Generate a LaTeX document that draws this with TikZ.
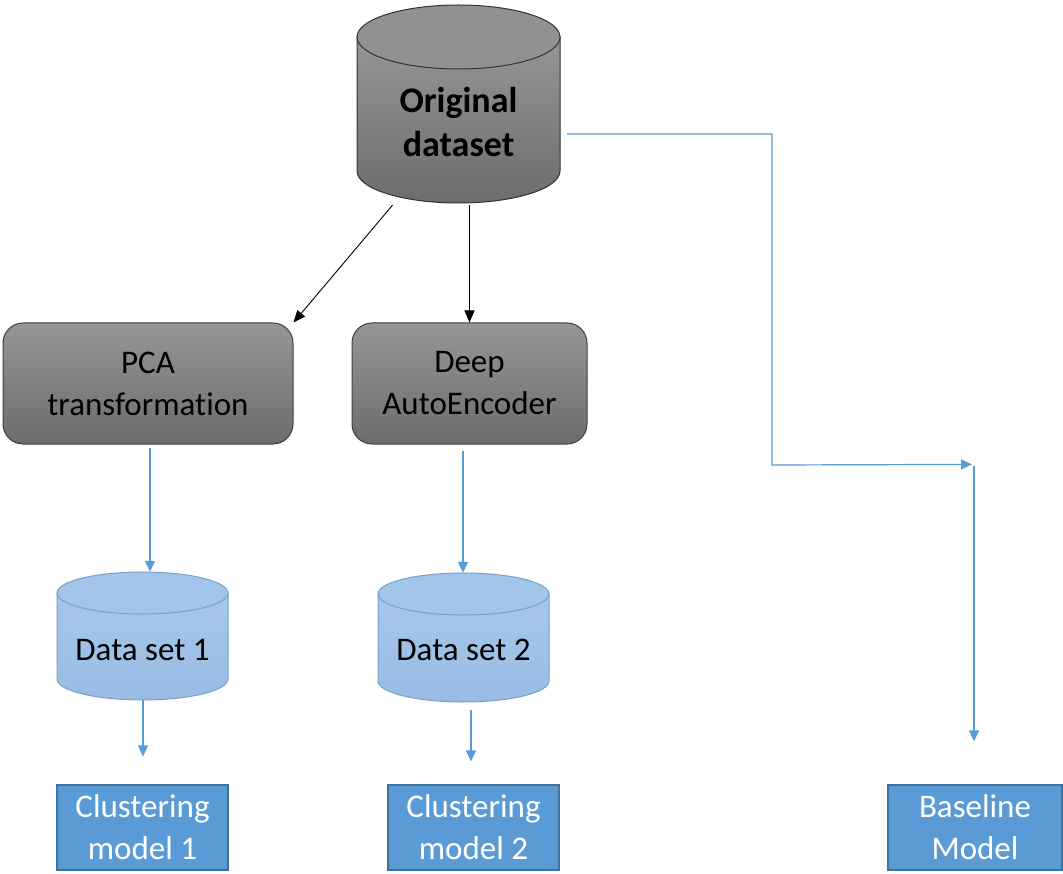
\documentclass[tikz,border=0pt]{standalone}
\usepackage{fontspec}
\setmainfont{Carlito}[Ligatures=NoCommon]
\usetikzlibrary{arrows.meta,calc}
\definecolor{blueA}{RGB}{91,155,213}
\definecolor{blueD}{RGB}{65,113,156}
\definecolor{lbTop}{RGB}{166,199,234}
\definecolor{lbBot}{RGB}{152,188,227}
\definecolor{lbEll}{RGB}{162,197,233}
\definecolor{lbLine}{RGB}{120,160,205}
\definecolor{gTop}{RGB}{150,150,150}
\definecolor{gBot}{RGB}{108,108,108}
\definecolor{gEll}{RGB}{145,145,145}
\newcommand\drawcyl[7]{%
  \draw[#6] (#1-#4,-#2-#5) -- (#1-#4,-#3+#5)
    arc[start angle=180,end angle=360,x radius=#4pt,y radius=#5pt]
    -- (#1+#4,-#2-#5) -- cycle;
  \draw[#7] (#1,-#2-#5) ellipse[x radius=#4pt,y radius=#5pt];}
\tikzset{
  txt/.style={font=\fontsize{33}{42}\selectfont, align=center},
  graybox/.style={txt, rounded corners=20pt, draw=black!75, line width=1pt,
    top color=gTop, bottom color=gBot, inner sep=0pt},
  bluebox/.style={txt, draw=blueD, fill=blueA, line width=1.2pt, text=white, inner sep=0pt},
  frame/.style={inner sep=0pt, draw=none},
  barrow/.style={draw=blueA, line width=1.2pt, -{Triangle[length=11pt,width=10pt]}},
  karrow/.style={draw=black, line width=0.9pt, -{Triangle[length=12pt,width=10pt]}},
  gbody/.style={draw=black!80, line width=1pt, top color=gTop, bottom color=gBot},
  gtop/.style={draw=black!80, line width=1pt, fill=gEll},
  lbody/.style={draw=lbLine, line width=1pt, top color=lbTop, bottom color=lbBot},
  ltop/.style={draw=lbLine, line width=1pt, fill=lbEll},
}
\begin{document}
\begin{tikzpicture}[x=1pt,y=1pt]
\useasboundingbox (0,0) rectangle (1063,-874);
\fill[white] (0,0) rectangle (1063,-874);

% cylinders
\drawcyl{458.5}{5}{203}{101.5}{32}{gbody}{gtop}
\node[frame, minimum width=203pt, minimum height=198pt] (orig) at (458.5,-104) {};
\node[font=\bfseries\fontsize{36}{44}\selectfont, align=center] (origtxt) at (458.5,-122) {Original\\dataset};

\drawcyl{142.5}{572}{700}{85.5}{21}{lbody}{ltop}
\node[frame, minimum width=171pt, minimum height=128pt] (ds1) at (142.5,-636) {};
\node[txt] (ds1txt) at (142.5,-650) {Data set 1};

\drawcyl{463.5}{573}{702}{85.5}{21}{lbody}{ltop}
\node[frame, minimum width=171pt, minimum height=129pt] (ds2) at (463.5,-637.5) {};
\node[txt] (ds2txt) at (463.5,-650) {Data set 2};

% boxes
\node[graybox, minimum width=290pt, minimum height=121pt] (pca) at (148,-383.5) {PCA\\transformation};
\node[graybox, minimum width=235pt, minimum height=121pt] (deep) at (469.5,-383.5) {Deep\\AutoEncoder};
\node[bluebox, minimum width=171pt, minimum height=85pt] (cm1) at (142.5,-827.5) {Clustering\\model 1};
\node[bluebox, minimum width=171pt, minimum height=85pt] (cm2) at (473.5,-827.5) {Clustering\\model 2};
\node[bluebox, minimum width=174pt, minimum height=85pt] (base) at (975,-827.5) {Baseline\\Model};

% black connectors
\draw[karrow] ($(orig.south)+(-66,-2)$) -- (pca.north east);
\draw[karrow] (deep.north |- orig.south) ++(0,-2) -- (deep.north);

% blue connectors
\coordinate (p1) at ($(pca.south)+(2,-3)$);
\draw[barrow] (p1) -- (p1 |- ds1.north);
\coordinate (p2) at ($(ds1.south)+(0.5,0)$);
\draw[barrow] (p2) -- ($(p2 |- cm1.north)+(0,28)$);
\coordinate (p3) at ($(deep.south)+(-6.5,-6)$);
\draw[barrow] (p3) -- (p3 |- ds2.north);
\coordinate (p4) at ($(ds2.south)+(7.5,-8)$);
\draw[barrow] (p4) -- ($(p4 |- cm2.north)+(0,23)$);

\coordinate (o1) at ($(orig.east)+(7,-30)$);
\coordinate (b1) at ($(base.north)+(-1,-465+785)$);
\draw[barrow] (o1) -| (772,-465) -- ($(b1)+(-2,0)$);
\draw[barrow] ($(b1)+(0,-2)$) -- ($(base.north)+(-1,43)$);
\end{tikzpicture}
\end{document}
